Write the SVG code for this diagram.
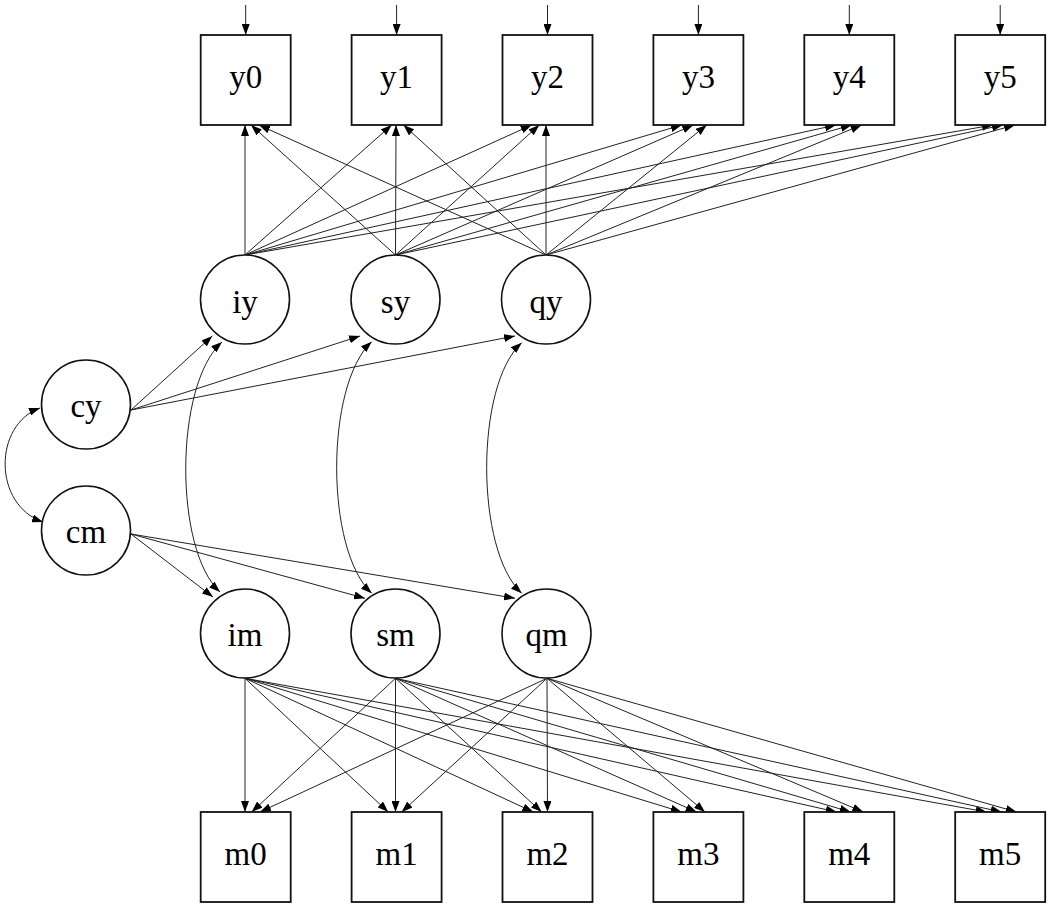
<svg xmlns="http://www.w3.org/2000/svg" width="1050" height="907" viewBox="0 0 1050 907">
<style>
.box{fill:#fff;stroke:#111;stroke-width:1.8}
.lat{fill:#fff;stroke:#111;stroke-width:1.6}
.lbl{font-family:"Liberation Serif","Times New Roman",serif;font-size:33px;fill:#000;text-anchor:middle}
.c line,.c path{stroke:#222;stroke-width:1;fill:none;marker-end:url(#ah)}
.c path.bi{marker-start:url(#ah)}
</style>
<defs>
<marker id="ah" markerUnits="userSpaceOnUse" markerWidth="11" markerHeight="8" refX="11" refY="4" orient="auto-start-reverse" viewBox="0 0 11 8">
<path d="M0,0 L11,4 L0,8 z" fill="#000"/>
</marker>
</defs>
<rect width="1050" height="907" fill="#fff"/>
<g class="c" id="connectors">
<!-- residual arrows -->
<line x1="245.7" y1="5" x2="245.7" y2="35"/>
<line x1="396.6" y1="5" x2="396.6" y2="35"/>
<line x1="547.5" y1="5" x2="547.5" y2="35"/>
<line x1="698.4" y1="5" x2="698.4" y2="35"/>
<line x1="849.3" y1="5" x2="849.3" y2="35"/>
<line x1="1000.2" y1="5" x2="1000.2" y2="35"/>
<!-- iy loadings -->
<line x1="245" y1="255" x2="245" y2="125"/>
<line x1="245" y1="255" x2="391.7" y2="125"/>
<line x1="245" y1="255" x2="531.7" y2="125"/>
<line x1="245" y1="255" x2="681.7" y2="125"/>
<line x1="245" y1="255" x2="836" y2="125"/>
<line x1="245" y1="255" x2="993" y2="125"/>
<!-- sy loadings -->
<line x1="395.5" y1="255" x2="251" y2="125"/>
<line x1="395.5" y1="255" x2="396" y2="125"/>
<line x1="395.5" y1="255" x2="539.3" y2="125"/>
<line x1="395.5" y1="255" x2="693.3" y2="125"/>
<line x1="395.5" y1="255" x2="851.7" y2="125"/>
<line x1="395.5" y1="255" x2="1003" y2="125"/>
<!-- qy loadings -->
<line x1="546" y1="255" x2="259" y2="125"/>
<line x1="546" y1="255" x2="403.5" y2="125"/>
<line x1="546" y1="255" x2="546" y2="125"/>
<line x1="546" y1="255" x2="706.7" y2="125"/>
<line x1="546" y1="255" x2="861.7" y2="125"/>
<line x1="546" y1="255" x2="1015" y2="125"/>
<!-- cy regressions -->
<line x1="131" y1="410" x2="212.3" y2="336"/>
<line x1="131" y1="410" x2="360" y2="336"/>
<line x1="131" y1="410" x2="515" y2="336"/>
<!-- cm regressions -->
<line x1="131" y1="534" x2="213" y2="597"/>
<line x1="131" y1="534" x2="365" y2="598.3"/>
<line x1="131" y1="534" x2="515" y2="598.3"/>
<!-- covariances -->
<path class="bi" d="M40,408 C-7,425 -7,505 43,522"/>
<path class="bi" d="M222,342 C174,385 174,550 220,592"/>
<path class="bi" d="M371.7,341.7 C325,385 325,550 371.7,593.3"/>
<path class="bi" d="M521.7,342.7 C475,385 475,550 521.7,593.3"/>
<!-- im loadings -->
<line x1="245" y1="678.3" x2="245" y2="812"/>
<line x1="245" y1="678.3" x2="388.3" y2="812"/>
<line x1="245" y1="678.3" x2="533.3" y2="812"/>
<line x1="245" y1="678.3" x2="681.7" y2="812"/>
<line x1="245" y1="678.3" x2="836.7" y2="812"/>
<line x1="245" y1="678.3" x2="986.7" y2="812"/>
<!-- sm loadings -->
<line x1="395.5" y1="678.3" x2="251.7" y2="812"/>
<line x1="395.5" y1="678.3" x2="395.5" y2="812"/>
<line x1="395.5" y1="678.3" x2="541.7" y2="812"/>
<line x1="395.5" y1="678.3" x2="696.7" y2="812"/>
<line x1="395.5" y1="678.3" x2="850.7" y2="812"/>
<line x1="395.5" y1="678.3" x2="1001.7" y2="812"/>
<!-- qm loadings -->
<line x1="547" y1="678.3" x2="260" y2="812"/>
<line x1="547" y1="678.3" x2="401.7" y2="812"/>
<line x1="547" y1="678.3" x2="547.5" y2="812"/>
<line x1="547" y1="678.3" x2="705" y2="812"/>
<line x1="547" y1="678.3" x2="863.3" y2="812"/>
<line x1="547" y1="678.3" x2="1016.7" y2="812"/>
</g>
<g id="y0"><rect class="box" x="200.7" y="35" width="90" height="90"/><text class="lbl" x="245.7" y="88">y0</text></g>
<g id="y1"><rect class="box" x="351.6" y="35" width="90" height="90"/><text class="lbl" x="396.6" y="88">y1</text></g>
<g id="y2"><rect class="box" x="502.5" y="35" width="90" height="90"/><text class="lbl" x="547.5" y="88">y2</text></g>
<g id="y3"><rect class="box" x="653.4" y="35" width="90" height="90"/><text class="lbl" x="698.4" y="88">y3</text></g>
<g id="y4"><rect class="box" x="804.3" y="35" width="90" height="90"/><text class="lbl" x="849.3" y="88">y4</text></g>
<g id="y5"><rect class="box" x="955.2" y="35" width="90" height="90"/><text class="lbl" x="1000.2" y="88">y5</text></g>
<g id="iy"><circle class="lat" cx="245" cy="299.5" r="44.5"/><text class="lbl" x="245" y="313">iy</text></g>
<g id="sy"><circle class="lat" cx="395.5" cy="299.5" r="44.5"/><text class="lbl" x="395.5" y="313">sy</text></g>
<g id="qy"><circle class="lat" cx="546" cy="299.5" r="44.5"/><text class="lbl" x="546" y="313">qy</text></g>
<g id="cy"><circle class="lat" cx="86" cy="404.5" r="44.5"/><text class="lbl" x="86" y="417">cy</text></g>
<g id="cm"><circle class="lat" cx="86" cy="530.5" r="44.5"/><text class="lbl" x="86" y="543">cm</text></g>
<g id="im"><circle class="lat" cx="245" cy="633.5" r="44.5"/><text class="lbl" x="245" y="646">im</text></g>
<g id="sm"><circle class="lat" cx="395.5" cy="633.5" r="44.5"/><text class="lbl" x="395.5" y="646">sm</text></g>
<g id="qm"><circle class="lat" cx="546.5" cy="633.5" r="44.5"/><text class="lbl" x="546.5" y="646">qm</text></g>
<g id="m0"><rect class="box" x="200.7" y="812" width="90" height="90"/><text class="lbl" x="245.7" y="865">m0</text></g>
<g id="m1"><rect class="box" x="351.6" y="812" width="90" height="90"/><text class="lbl" x="396.6" y="865">m1</text></g>
<g id="m2"><rect class="box" x="502.5" y="812" width="90" height="90"/><text class="lbl" x="547.5" y="865">m2</text></g>
<g id="m3"><rect class="box" x="653.4" y="812" width="90" height="90"/><text class="lbl" x="698.4" y="865">m3</text></g>
<g id="m4"><rect class="box" x="804.3" y="812" width="90" height="90"/><text class="lbl" x="849.3" y="865">m4</text></g>
<g id="m5"><rect class="box" x="955.2" y="812" width="90" height="90"/><text class="lbl" x="1000.2" y="865">m5</text></g>
</svg>
